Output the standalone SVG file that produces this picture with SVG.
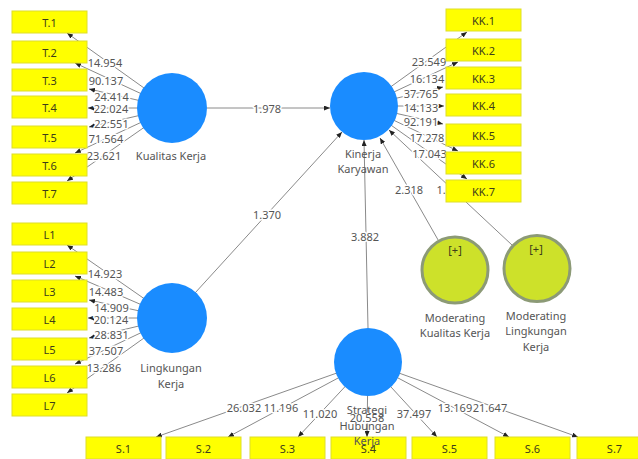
<svg xmlns="http://www.w3.org/2000/svg" width="638" height="459" viewBox="0 0 638 459">
<style>
.ln{stroke:#8a8a8a;stroke-width:1;fill:none;marker-end:url(#ah)}
.el{font-family:"Noto Sans","Open Sans",sans-serif;font-size:11px;fill:#555;text-anchor:middle;dominant-baseline:central;stroke:#fff;stroke-width:3px;paint-order:stroke;stroke-linejoin:round}
.box{fill:#ffff00;stroke:#dede2a;stroke-width:1}
.bt{font-family:"Noto Sans","Open Sans",sans-serif;font-size:11px;fill:#3d3d1a;text-anchor:middle;dominant-baseline:central}
.lv{fill:#1a8cff}
.mod{fill:#cde12a;stroke:#8c9a76;stroke-width:3}
.nl{font-family:"Noto Sans","Open Sans",sans-serif;font-size:11px;fill:#555;text-anchor:middle;dominant-baseline:central}
</style>
<defs>
<marker id="ah" markerUnits="userSpaceOnUse" markerWidth="6" markerHeight="5" refX="6" refY="2.5" orient="auto">
<path d="M0,0 L6,2.5 L0,5 z" fill="#222"/>
</marker>
</defs>
<rect width="638" height="459" fill="#fff"/>
<g id="connectors">
<!-- Kualitas Kerja indicators -->
<line class="ln" x1="172" y1="108" x2="67" y2="33"/>
<line class="ln" x1="172" y1="108" x2="75" y2="63"/>
<line class="ln" x1="172" y1="108" x2="89" y2="89"/>
<line class="ln" x1="172" y1="108" x2="88" y2="108"/>
<line class="ln" x1="172" y1="108" x2="89" y2="127"/>
<line class="ln" x1="172" y1="108" x2="75" y2="153"/>
<line class="ln" x1="172" y1="108" x2="67" y2="181"/>
<!-- Lingkungan Kerja indicators -->
<line class="ln" x1="172" y1="318" x2="67" y2="245"/>
<line class="ln" x1="172" y1="318" x2="75" y2="276"/>
<line class="ln" x1="172" y1="318" x2="89" y2="300"/>
<line class="ln" x1="172" y1="318" x2="88" y2="318"/>
<line class="ln" x1="172" y1="318" x2="89" y2="338"/>
<line class="ln" x1="172" y1="318" x2="75" y2="364"/>
<line class="ln" x1="172" y1="318" x2="67" y2="393"/>
<!-- Kinerja Karyawan indicators -->
<line class="ln" x1="364" y1="106" x2="467" y2="32"/>
<line class="ln" x1="364" y1="106" x2="458" y2="62"/>
<line class="ln" x1="364" y1="106" x2="443" y2="87"/>
<line class="ln" x1="364" y1="106" x2="444" y2="106"/>
<line class="ln" x1="364" y1="106" x2="443" y2="124"/>
<line class="ln" x1="364" y1="106" x2="458" y2="151"/>
<line class="ln" x1="364" y1="106" x2="467" y2="179"/>
<!-- Strategi indicators -->
<line class="ln" x1="368" y1="362" x2="156" y2="437"/>
<line class="ln" x1="368" y1="362" x2="228" y2="437"/>
<line class="ln" x1="368" y1="362" x2="298" y2="437"/>
<line class="ln" x1="368" y1="362" x2="367" y2="437"/>
<line class="ln" x1="368" y1="362" x2="437" y2="437"/>
<line class="ln" x1="368" y1="362" x2="509" y2="437"/>
<line class="ln" x1="368" y1="362" x2="578" y2="437"/>
<!-- structural paths -->
<line class="ln" x1="207" y1="108" x2="330" y2="108"/>
<line class="ln" x1="195" y1="293" x2="342" y2="132"/>
<line class="ln" x1="368" y1="328" x2="364" y2="140"/>
<line class="ln" x1="438.7" y1="241" x2="380" y2="138"/>
<line class="ln" x1="512" y1="245" x2="389" y2="130"/>
<!-- labels -->
<text class="el" x="105" y="62">14.954</text>
<text class="el" x="106" y="80">90.137</text>
<text class="el" x="111.5" y="96">24.414</text>
<text class="el" x="111" y="108">22.024</text>
<text class="el" x="111.5" y="123">22.551</text>
<text class="el" x="106" y="138">71.564</text>
<text class="el" x="104" y="155">23.621</text>
<text class="el" x="105" y="273">14.923</text>
<text class="el" x="106" y="291">14.483</text>
<text class="el" x="111.5" y="307">14.909</text>
<text class="el" x="111" y="319">20.124</text>
<text class="el" x="111.5" y="334">28.831</text>
<text class="el" x="106" y="350">37.507</text>
<text class="el" x="104" y="367">13.286</text>
<text class="el" x="429" y="61">23.549</text>
<text class="el" x="427" y="78">16.134</text>
<text class="el" x="421" y="93">37.765</text>
<text class="el" x="421" y="107">14.133</text>
<text class="el" x="421" y="121">92.191</text>
<text class="el" x="427" y="137">17.278</text>
<text class="el" x="429.5" y="153">17.043</text>
<text class="el" x="244" y="407">26.032</text>
<text class="el" x="281" y="407">11.196</text>
<text class="el" x="320" y="413">11.020</text>
<text class="el" x="367" y="417">20.558</text>
<text class="el" x="414" y="413">37.497</text>
<text class="el" x="455" y="407">13.169</text>
<text class="el" x="490" y="407">21.647</text>
<text class="el" x="267" y="108">1.978</text>
<text class="el" x="267" y="214">1.370</text>
<text class="el" x="365" y="236">3.882</text>
<text class="el" x="409" y="189">2.318</text>
<text class="el" x="441" y="189">1.</text>
</g>
<g id="T1"><rect class="box" x="12" y="11" width="75" height="22"/><text class="bt" x="49.5" y="22">T.1</text></g>
<g id="T2"><rect class="box" x="12" y="41" width="75" height="22"/><text class="bt" x="49.5" y="52">T.2</text></g>
<g id="T3"><rect class="box" x="12" y="69" width="75" height="22"/><text class="bt" x="49.5" y="80">T.3</text></g>
<g id="T4"><rect class="box" x="12" y="96" width="75" height="22"/><text class="bt" x="49.5" y="107">T.4</text></g>
<g id="T5"><rect class="box" x="12" y="126" width="75" height="22"/><text class="bt" x="49.5" y="137">T.5</text></g>
<g id="T6"><rect class="box" x="12" y="154" width="75" height="22"/><text class="bt" x="49.5" y="165">T.6</text></g>
<g id="T7"><rect class="box" x="12" y="182" width="75" height="22"/><text class="bt" x="49.5" y="193">T.7</text></g>
<g id="L1"><rect class="box" x="12" y="223" width="75" height="22"/><text class="bt" x="49.5" y="234">L1</text></g>
<g id="L2"><rect class="box" x="12" y="252" width="75" height="22"/><text class="bt" x="49.5" y="263">L2</text></g>
<g id="L3"><rect class="box" x="12" y="280" width="75" height="22"/><text class="bt" x="49.5" y="291">L3</text></g>
<g id="L4"><rect class="box" x="12" y="308" width="75" height="22"/><text class="bt" x="49.5" y="319">L4</text></g>
<g id="L5"><rect class="box" x="12" y="338" width="75" height="22"/><text class="bt" x="49.5" y="349">L5</text></g>
<g id="L6"><rect class="box" x="12" y="366" width="75" height="22"/><text class="bt" x="49.5" y="377">L6</text></g>
<g id="L7"><rect class="box" x="12" y="394" width="75" height="22"/><text class="bt" x="49.5" y="405">L7</text></g>
<g id="KK1"><rect class="box" x="446" y="9" width="75" height="22"/><text class="bt" x="483.5" y="20">KK.1</text></g>
<g id="KK2"><rect class="box" x="446" y="39" width="75" height="22"/><text class="bt" x="483.5" y="50">KK.2</text></g>
<g id="KK3"><rect class="box" x="446" y="67" width="75" height="22"/><text class="bt" x="483.5" y="78">KK.3</text></g>
<g id="KK4"><rect class="box" x="446" y="94" width="75" height="22"/><text class="bt" x="483.5" y="105">KK.4</text></g>
<g id="KK5"><rect class="box" x="446" y="124" width="75" height="22"/><text class="bt" x="483.5" y="135">KK.5</text></g>
<g id="KK6"><rect class="box" x="446" y="152" width="75" height="22"/><text class="bt" x="483.5" y="163">KK.6</text></g>
<g id="KK7"><rect class="box" x="446" y="180" width="75" height="22"/><text class="bt" x="483.5" y="191">KK.7</text></g>
<g id="S1"><rect class="box" x="86" y="437" width="75" height="22"/><text class="bt" x="123.5" y="448">S.1</text></g>
<g id="S2"><rect class="box" x="166" y="437" width="75" height="22"/><text class="bt" x="203.5" y="448">S.2</text></g>
<g id="S3"><rect class="box" x="250" y="437" width="75" height="22"/><text class="bt" x="287.5" y="448">S.3</text></g>
<g id="S4"><rect class="box" x="331" y="437" width="75" height="22"/><text class="bt" x="368.5" y="448">S.4</text></g>
<g id="S5"><rect class="box" x="412" y="437" width="75" height="22"/><text class="bt" x="449.5" y="448">S.5</text></g>
<g id="S6"><rect class="box" x="495" y="437" width="75" height="22"/><text class="bt" x="532.5" y="448">S.6</text></g>
<g id="S7"><rect class="box" x="577" y="437" width="75" height="22"/><text class="bt" x="614.5" y="448">S.7</text></g>
<g id="KualitasKerja"><circle class="lv" cx="172" cy="108" r="35"/><text class="nl" x="171" y="155">Kualitas Kerja</text></g>
<g id="LingkunganKerja"><circle class="lv" cx="172" cy="318" r="35"/><text class="nl" x="171" y="367">Lingkungan</text><text class="nl" x="171" y="383">Kerja</text></g>
<g id="KinerjaKaryawan"><circle class="lv" cx="364" cy="106" r="34"/><text class="nl" x="363" y="153">Kinerja</text><text class="nl" x="363" y="168">Karyawan</text></g>
<g id="ModeratingKualitasKerja"><circle class="mod" cx="455" cy="270" r="33"/><text class="nl" x="455" y="249" style="fill:#3d3d1a">[+]</text><text class="nl" x="455" y="317">Moderating</text><text class="nl" x="455" y="332">Kualitas Kerja</text></g>
<g id="ModeratingLingkunganKerja"><circle class="mod" cx="537" cy="268.5" r="33"/><text class="nl" x="536" y="248" style="fill:#3d3d1a">[+]</text><text class="nl" x="536" y="315">Moderating</text><text class="nl" x="536" y="330">Lingkungan</text><text class="nl" x="536" y="346">Kerja</text></g>
<g id="StrategiHubunganKerja"><circle class="lv" cx="368" cy="362" r="34"/><text class="nl" x="367" y="409">Strategi</text><text class="nl" x="367" y="425">Hubungan</text><text class="nl" x="367" y="440">Kerja</text></g>
</svg>
